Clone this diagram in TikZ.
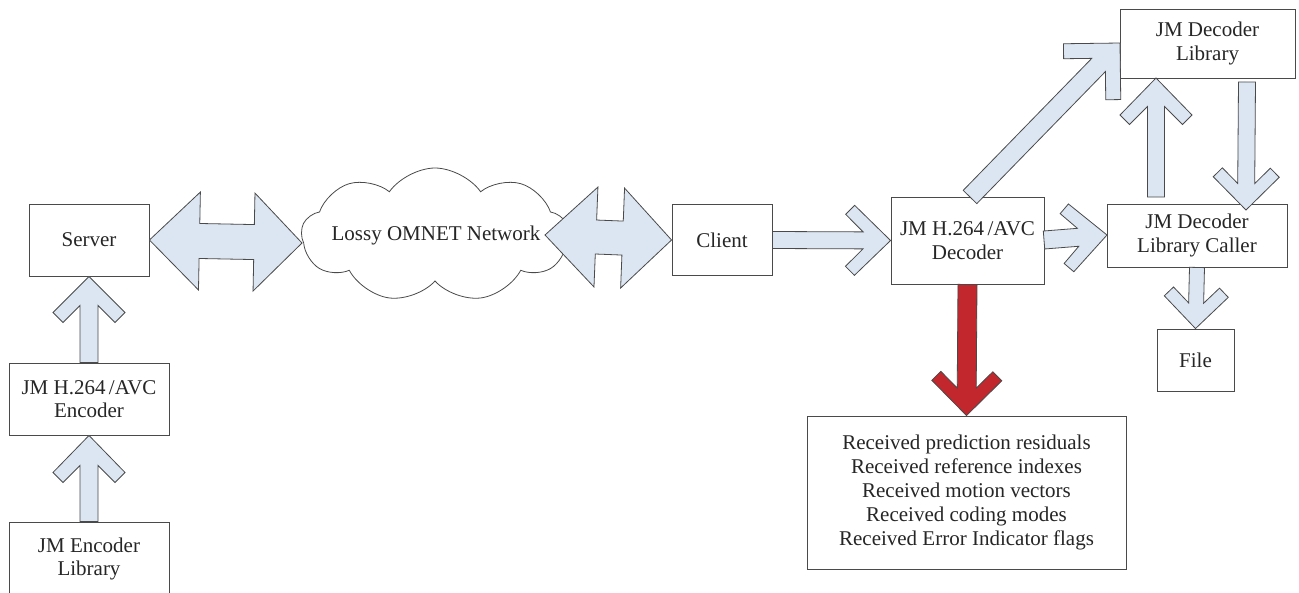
\documentclass[tikz,border=0pt]{standalone}
\usepackage{fontspec}
\setmainfont{Liberation Serif}
\usetikzlibrary{calc,shapes.symbols}
\definecolor{ablue}{HTML}{DCE6F2}
\definecolor{ared}{HTML}{C1272D}
\definecolor{ink}{HTML}{262626}
\definecolor{edgec}{HTML}{4A4A4A}

% chevron-head block arrow: #1 tail, #2 tip, #3 L, #4 H, #5 e, #6 s, #7 style
\newcommand\chevarrow[7]{%
  \pgfmathsetmacro\caU{#3+#5}%
  \pgfmathsetmacro\caV{#4-#5}%
  \pgfmathsetmacro\caJ{#3-#4+2*#5+#6}%
  \coordinate (caO) at ($(#2)!#3pt!(#1)$);
  \coordinate (caI) at ($(#2)!\caU pt!(#1)$);
  \coordinate (caJ) at ($(#2)!\caJ pt!(#1)$);
  \draw[#7] (#2) -- ($(caO)!#4pt!90:(#1)$) -- ($(caI)!\caV pt!90:(#1)$)
    -- ($(caJ)!#6pt!90:(#1)$) -- ($(#1)!#6pt!-90:(#2)$)
    -- ($(#1)!#6pt!90:(#2)$) -- ($(caJ)!#6pt!-90:(#1)$)
    -- ($(caI)!\caV pt!-90:(#1)$) -- ($(caO)!#4pt!-90:(#1)$) -- cycle;
}
% double block arrow: #1 tip A, #2 tip B, #3 LA, #4 LB, #5 H, #6 s, #7 style
\newcommand\dblarrow[7]{%
  \coordinate (daA) at ($(#1)!#3pt!(#2)$);
  \coordinate (daB) at ($(#2)!#4pt!(#1)$);
  \draw[#7] (#1) -- ($(daA)!#5pt!90:(#2)$) -- ($(daA)!#6pt!90:(#2)$)
    -- ($(daB)!#6pt!-90:(#1)$) -- ($(daB)!#5pt!-90:(#1)$) -- (#2)
    -- ($(daB)!#5pt!90:(#1)$) -- ($(daB)!#6pt!90:(#1)$)
    -- ($(daA)!#6pt!-90:(#2)$) -- ($(daA)!#5pt!-90:(#2)$) -- cycle;
}

\tikzset{
  box/.style={draw=edgec, line width=0.9pt, fill=white, align=center,
    inner sep=0pt, text=ink, font=\fontsize{21}{23.5}\selectfont},
  bluearrow/.style={draw=edgec, line width=0.8pt, fill=ablue, line join=miter},
  redarrow/.style={draw=edgec, line width=0.8pt, fill=ared, line join=miter},
  cloudshape/.style={cloud, cloud puffs=9, cloud puff arc=110, draw=edgec,
    line width=0.8pt, fill=white, minimum width=267pt, minimum height=134pt,
    inner sep=0pt},
  lbl/.style={text=ink, inner sep=0pt, font=\fontsize{21}{23.5}\selectfont, align=center},
}

\begin{document}
\begin{tikzpicture}[x=1pt,y=-1pt]
\useasboundingbox (0,0) rectangle (1299,592);
\fill[white] (0,0) rectangle (1299,592);

% boxes
\node[box, minimum width=120pt, minimum height=72pt] (server) at (89,240) {Server};
\node[box, minimum width=160pt, minimum height=72pt] (encoder) at (89,399) {JM H.264\,/AVC\\Encoder};
\node[box, minimum width=160pt, minimum height=74pt] (enclib) at (89,559) {JM Encoder\\Library};
\node[cloudshape] (cloud) at (435,235) {};
\node[lbl] (cloudtxt) at (436,235) {Lossy OMNET Network};
\node[box, minimum width=100pt, minimum height=71pt] (client) at (722,240) {Client};
\node[box, minimum width=153pt, minimum height=87pt] (decoder) at (967.5,240.5) {JM H.264\,/AVC\\Decoder};
\node[box, minimum width=180pt, minimum height=63pt] (caller) at (1197,235.5) {JM Decoder\\Library Caller};
\node[box, minimum width=175pt, minimum height=69pt] (declib) at (1207.5,43.5) {JM Decoder\\Library};
\node[box, minimum width=77pt, minimum height=62pt] (file) at (1195.5,360) {File};
\node[box, minimum width=319pt, minimum height=153pt, font=\fontsize{21}{24}\selectfont] (recv) at (966.5,492.5)
  {Received prediction residuals\\Received reference indexes\\Received motion vectors\\Received coding modes\\Received Error Indicator flags};

% connector end points
\coordinate (cloudW) at (302,243);
\coordinate (cloudE) at (545,235);
\coordinate (diagT) at (970,197);
\coordinate (diagH) at (1120,43);
\coordinate (upT) at (1156,197);
\coordinate (upH) at (1156,78);
\coordinate (dnT) at (1247,82);
\coordinate (dnH) at (1246,210);
\coordinate (dcT) at (1044,240);
\coordinate (dcH) at (1107,235);

% arrows
\dblarrow{server.east}{cloudW}{50}{48}{49}{17.5}{bluearrow}
\dblarrow{cloudE}{client.west}{51}{49}{50}{17}{bluearrow}
\chevarrow{client.east}{decoder.west}{36}{35}{9}{8.5}{bluearrow}
\chevarrow{encoder.north}{server.south}{36}{36}{10}{9}{bluearrow}
\chevarrow{enclib.north}{encoder.south}{37}{36}{10}{9}{bluearrow}
\chevarrow{dcT}{dcH}{36}{34}{9}{9}{bluearrow}
\chevarrow{diagT}{diagH}{40}{40}{10.6}{9.5}{bluearrow}
\chevarrow{upT}{upH}{37}{36}{9.5}{8.5}{bluearrow}
\chevarrow{dnT}{dnH}{33}{33}{9}{8.5}{bluearrow}
\chevarrow{caller.south}{file.north}{32}{32}{9}{7.5}{bluearrow}
\chevarrow{decoder.south}{recv.north}{35}{35}{9}{9.5}{redarrow}
\end{tikzpicture}
\end{document}
